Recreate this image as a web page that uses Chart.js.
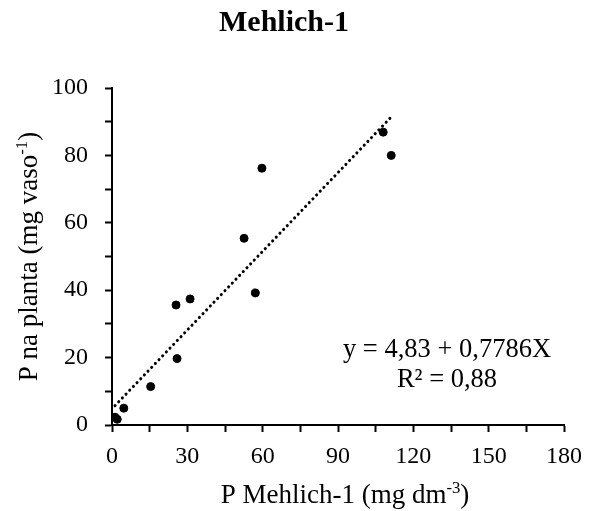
<!DOCTYPE html>
<html>
<head>
<meta charset="utf-8">
<script src="https://cdn.jsdelivr.net/npm/chart.js@4"></script>
<style>
  html, body { margin: 0; padding: 0; background: #fff; }
</style>
</head>
<body>
<canvas id="scatterChart" width="592" height="511"></canvas>
<script>
// data
const pMehlich = [1.2, 2.1, 4.7, 15.4, 25.5, 25.9, 31.1, 52.6, 57.1, 59.7, 108.0, 111.2];
const pPlanta = [2.3, 1.7, 5.0, 11.4, 35.6, 19.7, 37.4, 55.4, 39.2, 76.2, 86.9, 80.0];

// fitted line end points (y = 4,83 + 0,7786X)
const trendX = [1.2, 110.8];
const trendY = [5.76, 91.10];

const xTicks = [0, 30, 60, 90, 120, 150, 180];
const yTicks = [0, 20, 40, 60, 80, 100];

const chartTitle = "Mehlich-1";
const equationLines = ["y = 4,83 + 0,7786X", "R² = 0,88"];

const serif = "'Liberation Serif', 'Times New Roman', serif";

const points = pMehlich.map((x, i) => ({ x: x, y: pPlanta[i] }));
const trend = trendX.map((x, i) => ({ x: x, y: trendY[i] }));

// draws a label with a raised part, e.g. "dm" + "-3" + ")"
function drawSupText(ctx, parts, size) {
    let total = 0;
    parts.forEach((p) => {
        ctx.font = (p.sup ? size * 0.62 : size) + "px " + serif;
        total += ctx.measureText(p.t).width;
    });
    let x = -total / 2;
    parts.forEach((p) => {
        ctx.font = (p.sup ? size * 0.62 : size) + "px " + serif;
        ctx.fillText(p.t, x, p.sup ? -size * 0.36 : 0);
        x += ctx.measureText(p.t).width;
    });
}

const labelsPlugin = {
    id: "labelsPlugin",
    afterDraw(chart) {
        const ctx = chart.ctx;
        const area = chart.chartArea;
        ctx.save();
        ctx.fillStyle = "#000";
        ctx.textAlign = "left";
        ctx.textBaseline = "alphabetic";

        // x axis title
        ctx.save();
        ctx.translate(345, 503);
        drawSupText(ctx, [
            { t: "P Mehlich-1 (mg dm" },
            { t: "-3", sup: true },
            { t: ")" },
        ], 27);
        ctx.restore();

        // y axis title
        ctx.save();
        ctx.translate(37, (area.top + area.bottom) / 2);
        ctx.rotate(-Math.PI / 2);
        drawSupText(ctx, [
            { t: "P na planta (mg vaso" },
            { t: "-1", sup: true },
            { t: ")" },
        ], 27);
        ctx.restore();

        // regression equation
        ctx.font = "26.5px " + serif;
        ctx.textAlign = "center";
        ctx.fillText(equationLines[0], 447, 357);
        ctx.fillText(equationLines[1], 447, 387);
        ctx.restore();
    },
};

const ctx = document.getElementById("scatterChart").getContext("2d");

const scatterChart = new Chart(ctx, {
    type: "scatter",
    data: {
        datasets: [
            {
                label: "P na planta",
                data: points,
                backgroundColor: "#000",
                borderColor: "#000",
                pointRadius: 4,
                pointHoverRadius: 4,
            },
            {
                label: "Linear",
                type: "line",
                data: trend,
                showLine: true,
                borderColor: "#000",
                borderWidth: 3,
                borderDash: [0.1, 5.2],
                borderCapStyle: "round",
                pointRadius: 0,
                fill: false,
            },
        ],
    },
    options: {
        responsive: false,
        animation: false,
        layout: {
            padding: { top: 0, right: 24, bottom: 0, left: 0 },
        },
        plugins: {
            legend: { display: false },
            tooltip: { enabled: false },
            title: {
                display: true,
                text: chartTitle,
                color: "#000",
                font: { family: serif, size: 30, weight: "bold" },
                padding: { top: 5, bottom: 47 },
            },
        },
        scales: {
            x: {
                type: "linear",
                min: 0,
                max: 180,
                afterFit: (scale) => { scale.height = 86; },
                border: { display: true, color: "#000", width: 2 },
                grid: {
                    drawOnChartArea: false,
                    drawTicks: true,
                    tickLength: 7,
                    tickColor: "#000",
                    tickWidth: 2,
                },
                ticks: {
                    stepSize: 15,
                    autoSkip: false,
                    maxRotation: 0,
                    padding: 10,
                    color: "#000",
                    font: { family: serif, size: 24 },
                    callback: (v) => (xTicks.includes(v) ? v : ""),
                },
            },
            y: {
                type: "linear",
                min: 0,
                max: 100,
                afterFit: (scale) => { scale.width = 112; },
                border: { display: true, color: "#000", width: 2 },
                grid: {
                    drawOnChartArea: false,
                    drawTicks: true,
                    tickLength: 7,
                    tickColor: "#000",
                    tickWidth: 2,
                },
                ticks: {
                    stepSize: 10,
                    autoSkip: false,
                    padding: 17,
                    color: "#000",
                    font: { family: serif, size: 24 },
                    callback: (v) => (yTicks.includes(v) ? v : ""),
                },
            },
        },
    },
    plugins: [labelsPlugin],
});
</script>
</body>
</html>
